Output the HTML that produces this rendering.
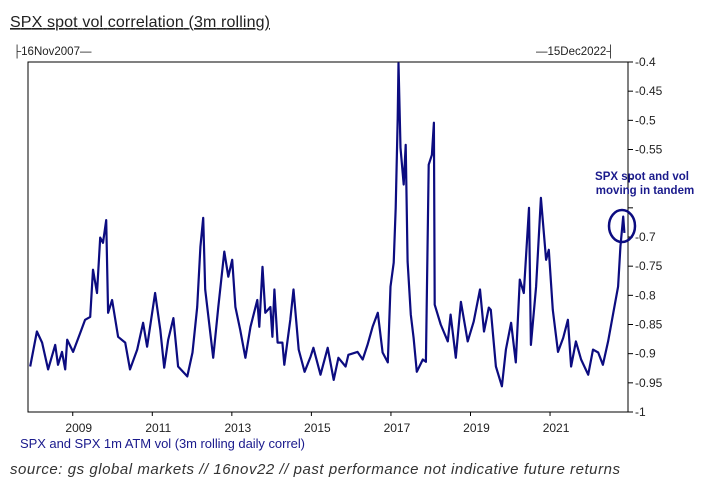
<!DOCTYPE html>
<html><head><meta charset="utf-8"><style>
body{margin:0;background:#fff;width:717px;height:489px;overflow:hidden;font-family:"Liberation Sans",sans-serif}
svg{display:block}
</style></head><body>
<svg width="717" height="489">
<text x="10" y="27" font-size="16" fill="#222" text-decoration="underline" textLength="260">SPX spot vol correlation (3m rolling)</text>
<text x="13" y="55" font-size="11.5" fill="#222">├16Nov2007—</text>
<text x="536" y="55" font-size="11.5" fill="#222">—15Dec2022┤</text>
<rect x="28" y="62" width="600" height="350" fill="none" stroke="#000" stroke-width="1"/>
<g id="yaxis"></g><g id="xaxis"></g>
<polyline id="line" fill="none" stroke="#0c0c80" stroke-width="2.2" stroke-linejoin="round"/>
<ellipse cx="622" cy="226" rx="13" ry="16" fill="none" stroke="#0c0c80" stroke-width="2.5"/>
<text x="642" y="180" font-size="11.5" font-weight="bold" fill="#1a1a8c" text-anchor="middle">SPX spot and vol</text>
<text x="645" y="194" font-size="11.5" font-weight="bold" fill="#1a1a8c" text-anchor="middle">moving in tandem</text>
<text x="20" y="448" font-size="13" fill="#1a1a8c" textLength="285">SPX and SPX 1m ATM vol (3m rolling daily correl)</text>
<text x="10" y="474" font-size="15" font-style="italic" fill="#333" textLength="610">source: gs global markets // 16nov22 // past performance not indicative future returns</text>
</svg>
<script>
const years=[2007.93,2008.10,2008.23,2008.38,2008.56,2008.63,2008.73,2008.81,2008.86,2009.01,2009.19,2009.31,2009.44,2009.51,2009.61,2009.69,2009.76,2009.84,2009.89,2009.99,2010.14,2010.32,2010.44,2010.62,2010.77,2010.87,2011.07,2011.20,2011.30,2011.40,2011.53,2011.65,2011.88,2012.01,2012.13,2012.21,2012.28,2012.33,2012.53,2012.66,2012.81,2012.91,2013.01,2013.09,2013.21,2013.34,2013.47,2013.64,2013.69,2013.77,2013.84,2013.97,2014.02,2014.07,2014.15,2014.27,2014.32,2014.47,2014.55,2014.68,2014.83,2014.98,2015.05,2015.23,2015.41,2015.56,2015.68,2015.86,2015.93,2016.16,2016.29,2016.41,2016.54,2016.67,2016.79,2016.92,2016.99,2017.07,2017.12,2017.17,2017.19,2017.24,2017.32,2017.37,2017.42,2017.50,2017.57,2017.65,2017.80,2017.88,2017.93,2017.95,2018.03,2018.08,2018.10,2018.25,2018.43,2018.50,2018.63,2018.76,2018.93,2019.08,2019.24,2019.34,2019.46,2019.51,2019.64,2019.79,2019.89,2020.02,2020.14,2020.24,2020.34,2020.47,2020.52,2020.65,2020.77,2020.90,2020.97,2021.07,2021.20,2021.33,2021.45,2021.53,2021.65,2021.78,2021.96,2022.08,2022.21,2022.33,2022.46,2022.59,2022.71,2022.77,2022.84,2022.87];
const values=[-0.922,-0.862,-0.881,-0.927,-0.885,-0.919,-0.897,-0.927,-0.876,-0.897,-0.864,-0.842,-0.837,-0.756,-0.796,-0.701,-0.71,-0.671,-0.83,-0.808,-0.871,-0.881,-0.927,-0.893,-0.847,-0.888,-0.796,-0.859,-0.924,-0.876,-0.839,-0.922,-0.939,-0.898,-0.82,-0.717,-0.667,-0.79,-0.907,-0.82,-0.725,-0.768,-0.739,-0.82,-0.859,-0.907,-0.854,-0.808,-0.854,-0.751,-0.83,-0.82,-0.871,-0.79,-0.881,-0.881,-0.919,-0.842,-0.79,-0.893,-0.931,-0.905,-0.89,-0.936,-0.89,-0.945,-0.907,-0.922,-0.902,-0.897,-0.91,-0.885,-0.854,-0.83,-0.898,-0.915,-0.785,-0.744,-0.65,-0.496,-0.402,-0.547,-0.61,-0.542,-0.742,-0.833,-0.873,-0.931,-0.91,-0.914,-0.674,-0.576,-0.559,-0.504,-0.816,-0.85,-0.879,-0.833,-0.907,-0.811,-0.879,-0.845,-0.79,-0.862,-0.821,-0.825,-0.922,-0.956,-0.893,-0.847,-0.915,-0.773,-0.796,-0.65,-0.885,-0.785,-0.633,-0.739,-0.722,-0.825,-0.897,-0.873,-0.842,-0.922,-0.879,-0.91,-0.936,-0.893,-0.898,-0.919,-0.879,-0.83,-0.785,-0.717,-0.665,-0.693];
const yTicks=[-0.4,-0.45,-0.5,-0.55,-0.6,-0.65,-0.7,-0.75,-0.8,-0.85,-0.9,-0.95,-1];
const yTickLabels=["-0.4","-0.45","-0.5","-0.55","","","-0.7","-0.75","-0.8","-0.85","-0.9","-0.95","-1"];
const xTicks=[2009,2011,2013,2015,2017,2019,2021];
const X0=2007.875,X1=2022.96,L=28,R=628,T=62,B=412,Y0=-0.4,Y1=-1;
const sx=t=>L+(t-X0)/(X1-X0)*(R-L);
const sy=v=>T+(v-Y0)/(Y1-Y0)*(B-T);
const NS="http://www.w3.org/2000/svg";
const line=document.getElementById('line');
line.setAttribute('points',years.map((t,i)=>sx(t).toFixed(1)+','+sy(values[i]).toFixed(1)).join(' '));
const ya=document.getElementById('yaxis');
yTicks.forEach((v,i)=>{
 const tk=document.createElementNS(NS,'line');
 tk.setAttribute('x1',R);tk.setAttribute('x2',R+5);tk.setAttribute('y1',sy(v));tk.setAttribute('y2',sy(v));tk.setAttribute('stroke','#000');
 
 
 ya.appendChild(tk);
 if(yTickLabels[i]){
  const tx=document.createElementNS(NS,'text');
  tx.setAttribute('x',R+7);tx.setAttribute('y',sy(v)+4);tx.setAttribute('font-size','12');tx.setAttribute('fill','#222');
  tx.textContent=yTickLabels[i];
  
  
  ya.appendChild(tx);
 }
});
const xa=document.getElementById('xaxis');
xTicks.forEach(y=>{
 const tk=document.createElementNS(NS,'line');
 tk.setAttribute('x1',sx(y));tk.setAttribute('x2',sx(y));tk.setAttribute('y1',B);tk.setAttribute('y2',B+4);tk.setAttribute('stroke','#000');
 
 
 xa.appendChild(tk);
 const tx=document.createElementNS(NS,'text');
 tx.setAttribute('x',sx(y)+6);tx.setAttribute('y',432);tx.setAttribute('font-size','12');tx.setAttribute('fill','#222');tx.setAttribute('text-anchor','middle');
 tx.textContent=y;
 
 
 xa.appendChild(tx);
});
</script>
</body></html>
